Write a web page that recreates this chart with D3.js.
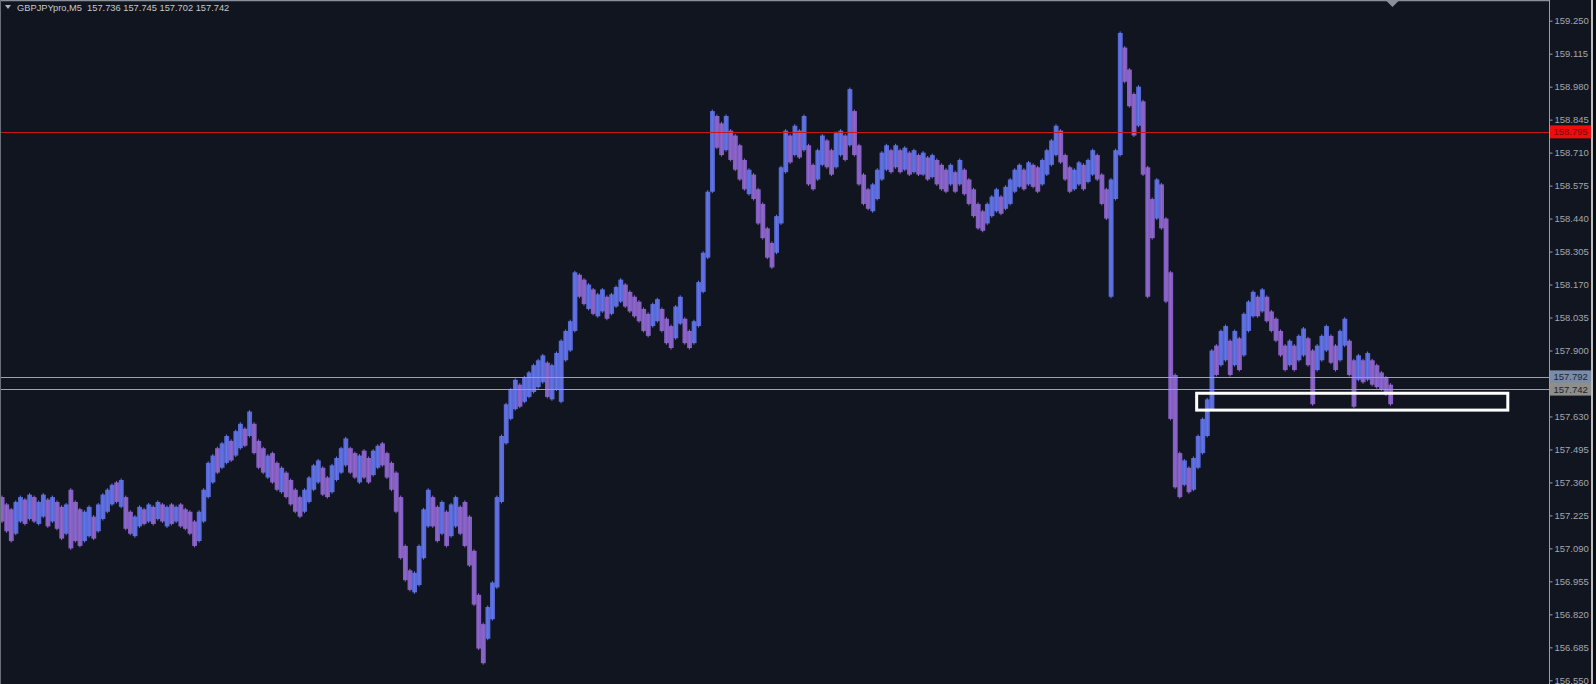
<!DOCTYPE html>
<html>
<head>
<meta charset="utf-8">
<script src="https://cdn.jsdelivr.net/npm/d3@7"></script>
<style>
  html, body { margin: 0; padding: 0; background: #10151f; overflow: hidden; }
  svg { display: block; }
</style>
</head>
<body>
<svg id="chart" width="1596" height="684"></svg>
<script>
// ---- Data ----
const symbol = "GBPJPYpro,M5";
const ohlcHeader = ["157.736", "157.745", "157.702", "157.742"];

const highs = [
157.30,157.27,157.25,157.28,157.30,157.29,157.31,157.30,157.28,157.31,157.29,157.30,157.28,157.26,157.27,157.33,157.28,157.25,157.24,157.26,157.22,157.27,157.31,157.33,157.35,157.36,157.37,157.30,157.24,157.22,157.26,157.25,157.27,157.26,157.28,157.27,157.26,157.27,157.26,157.27,157.25,157.24,157.20,157.24,
157.33,157.44,157.47,157.50,157.52,157.55,157.53,157.57,157.60,157.58,157.65,157.60,157.53,157.50,157.47,157.48,157.44,157.42,157.40,157.37,157.33,157.30,157.33,157.38,157.43,157.45,157.42,157.38,157.43,157.46,157.50,157.54,157.50,157.48,157.47,157.49,157.46,157.49,157.51,157.52,157.48,157.44,157.40,157.30,
157.10,157.00,156.99,157.10,157.25,157.33,157.30,157.26,157.28,157.24,157.27,157.30,157.26,157.28,157.22,157.08,156.90,156.78,156.85,156.95,157.30,157.55,157.68,157.74,157.78,157.76,157.79,157.81,157.84,157.86,157.88,157.85,157.84,157.89,157.94,157.98,158.02,158.22,158.21,158.19,158.17,158.15,158.13,158.15,158.12,
158.13,158.16,158.19,158.17,158.14,158.12,158.10,158.07,158.05,158.09,158.11,158.07,158.03,158.00,158.08,158.12,158.03,157.98,158.02,158.18,158.30,158.55,158.88,158.86,158.83,158.86,158.80,158.78,158.74,158.68,158.64,158.62,158.56,158.50,158.40,158.34,158.45,158.65,158.80,158.78,158.82,158.80,158.86,158.74,
158.66,158.72,158.78,158.76,158.72,158.79,158.80,158.78,158.97,158.88,158.74,158.62,158.56,158.58,158.64,158.71,158.74,158.72,158.74,158.72,158.73,158.71,158.72,158.70,158.71,158.69,158.70,158.68,158.66,158.64,158.66,158.63,158.68,158.64,158.60,158.56,158.50,158.47,158.50,158.53,158.56,158.53,158.57,158.60,
158.64,158.66,158.64,158.67,158.66,158.65,158.68,158.72,158.76,158.82,158.80,158.70,158.65,158.64,158.67,158.66,158.68,158.72,158.70,158.62,158.56,158.60,158.72,159.20,159.14,159.05,158.95,158.98,158.92,158.65,158.52,158.60,158.58,158.44,158.22,157.80,157.48,157.45,157.42,157.46,157.55,157.62,157.70,157.90,157.92,
157.98,158.00,157.94,157.98,157.95,158.05,158.10,158.14,158.12,158.15,158.12,158.06,158.03,157.98,157.92,157.94,157.92,157.96,157.99,157.95,157.90,157.92,157.96,158.00,157.96,157.92,157.98,158.03,157.94,157.86,157.88,157.86,157.89,157.86,157.84,157.81,157.79,157.76
];

const lows = [
157.20,157.16,157.12,157.15,157.20,157.19,157.21,157.20,157.19,157.22,157.18,157.20,157.17,157.13,157.15,157.09,157.12,157.10,157.12,157.14,157.13,157.16,157.21,157.24,157.27,157.28,157.26,157.17,157.15,157.14,157.18,157.19,157.20,157.19,157.21,157.20,157.18,157.19,157.20,157.18,157.17,157.15,157.10,157.12,
157.20,157.30,157.36,157.40,157.42,157.44,157.45,157.47,157.50,157.51,157.55,157.48,157.42,157.40,157.38,157.36,157.33,157.32,157.30,157.27,157.24,157.22,157.24,157.28,157.33,157.36,157.31,157.30,157.32,157.37,157.40,157.43,157.40,157.38,157.36,157.38,157.36,157.39,157.42,157.43,157.38,157.33,157.24,157.05,
156.96,156.92,156.91,156.94,157.05,157.18,157.18,157.12,157.15,157.10,157.14,157.18,157.15,157.10,157.02,156.86,156.68,156.62,156.72,156.80,156.93,157.28,157.52,157.62,157.66,157.67,157.69,157.71,157.73,157.75,157.77,157.71,157.70,157.74,157.69,157.86,157.90,157.98,158.12,158.09,158.07,158.05,158.04,158.06,158.03,
158.05,158.08,158.10,158.08,158.06,158.04,158.02,157.98,157.96,158.00,158.02,157.98,157.93,157.91,157.95,158.01,157.93,157.91,157.93,158.00,158.14,158.28,158.55,158.73,158.70,158.72,158.68,158.64,158.60,158.56,158.54,158.52,158.42,158.36,158.28,158.24,158.30,158.42,158.63,158.67,158.70,158.69,158.72,158.58,
158.56,158.60,158.66,158.65,158.62,158.65,158.70,158.68,158.74,158.70,158.58,158.50,158.48,158.47,158.52,158.60,158.64,158.63,158.65,158.63,158.64,158.62,158.63,158.62,158.62,158.60,158.61,158.58,158.56,158.55,158.58,158.55,158.58,158.54,158.50,158.45,158.40,158.39,158.42,158.45,158.47,158.46,158.48,158.50,
158.55,158.57,158.56,158.58,158.57,158.55,158.58,158.62,158.66,158.70,158.67,158.60,158.55,158.56,158.58,158.56,158.59,158.62,158.60,158.50,158.44,158.12,158.52,158.70,159.00,158.90,158.78,158.82,158.62,158.12,158.36,158.44,158.40,158.10,157.62,157.34,157.30,157.35,157.32,157.33,157.42,157.48,157.55,157.66,157.80,
157.84,157.86,157.80,157.84,157.82,157.88,157.98,158.04,158.04,158.06,158.02,157.98,157.94,157.88,157.82,157.84,157.82,157.86,157.88,157.84,157.68,157.82,157.86,157.90,157.85,157.82,157.86,157.92,157.80,157.67,157.78,157.77,157.78,157.76,157.75,157.74,157.72,157.68
];

// 1 = bull bar (close above open), 0 = bear bar
const bullish = [
0,0,0,1,1,0,1,0,1,1,0,1,0,0,1,0,0,0,1,1,0,1,1,1,1,0,1,0,0,1,1,0,1,0,1,0,1,0,1,0,0,0,0,1,
1,1,1,0,1,1,0,1,1,0,1,0,0,0,1,0,0,1,0,0,0,0,1,1,1,1,0,0,1,1,1,1,0,0,1,0,0,1,1,0,0,0,0,0,
0,0,1,1,1,1,0,0,1,0,1,1,0,0,0,0,0,0,1,1,1,1,1,1,1,0,1,1,1,1,1,0,1,1,1,1,1,1,0,0,1,0,1,1,0,
1,1,1,0,0,0,0,0,0,1,1,0,0,0,1,1,0,0,1,1,1,1,1,0,0,1,0,0,0,0,1,0,0,0,0,0,1,1,1,0,1,0,1,0,
0,1,1,0,0,1,1,0,1,0,0,0,0,1,1,1,1,0,1,0,1,0,1,0,1,0,1,0,0,0,1,0,1,0,0,0,0,0,1,1,1,0,1,1,
1,1,0,1,0,0,1,1,1,1,0,0,0,1,1,0,1,1,0,0,0,1,1,1,0,0,0,1,0,0,0,1,0,0,0,0,0,1,0,1,1,1,1,1,0,
1,1,0,1,0,1,1,1,0,1,0,0,0,0,0,1,0,1,1,0,0,1,1,1,0,0,1,1,0,0,1,0,1,0,0,0,0,0
];

const priceTicks = ["159.250","159.115","158.980","158.845","158.710","158.575","158.440","158.305","158.170","158.035","157.900","157.765","157.630","157.495","157.360","157.225","157.090","156.955","156.820","156.685","156.550"];
// tick hidden behind the price labels
const hiddenTicks = ["157.765"];

const levelRed = 158.795;
const levelAsk = 157.792;
const levelBid = 157.742;
const boxLeftBar = 260.7, boxRightBar = 328.6, boxTopPrice = 157.725, boxBottomPrice = 157.656;

// ---- Drawing ----
const W = 1596, H = 684;
const axisX = 1549;
const FONT = "'Liberation Sans', Arial, sans-serif";
const svg = d3.select("#chart");

svg.append("rect").attr("x",0).attr("y",0).attr("width",W).attr("height",H).attr("fill","#10151f");

const n = highs.length;
const x = d3.scaleLinear().domain([0, n - 1]).range([2, 1390.5]);
const y = d3.scaleLinear().domain([156.55, 159.25]).range([680.3, 20.7]);
const step = x(1) - x(0);

const plot = svg.append("g");

// bars
const bars = d3.range(n).map(i => ({ i, h: highs[i], l: lows[i], up: bullish[i] === 1 }));
plot.selectAll("rect.bar").data(bars).enter().append("rect")
  .attr("class","bar")
  .attr("x", d => x(d.i) - step / 2)
  .attr("width", step + 0.3)
  .attr("y", d => y(d.h))
  .attr("height", d => Math.max(1, y(d.l) - y(d.h)))
  .attr("fill", d => d.up ? "#5a6bd9" : "#8460c2");
// thin brighter wick in the middle of each bar for texture
plot.selectAll("line.wick").data(bars).enter().append("line")
  .attr("class","wick")
  .attr("x1", d => x(d.i)).attr("x2", d => x(d.i))
  .attr("y1", d => y(d.h) - 1.5).attr("y2", d => y(d.l) + 1.5)
  .attr("stroke", d => d.up ? "#6677ea" : "#9468cf")
  .attr("stroke-width", 1);

// horizontal levels
plot.append("line").attr("x1",0).attr("x2",axisX).attr("y1",Math.round(y(levelRed))+0.5).attr("y2",Math.round(y(levelRed))+0.5)
  .attr("stroke","#c81818").attr("stroke-width",1);
plot.append("line").attr("x1",0).attr("x2",axisX).attr("y1",Math.round(y(levelAsk))+0.5).attr("y2",Math.round(y(levelAsk))+0.5)
  .attr("stroke","#9ea3ab").attr("stroke-width",1);
plot.append("line").attr("x1",0).attr("x2",axisX).attr("y1",Math.round(y(levelBid))+0.5).attr("y2",Math.round(y(levelBid))+0.5)
  .attr("stroke","#9ea3ab").attr("stroke-width",1);

// white rectangle annotation
plot.append("rect")
  .attr("x", x(boxLeftBar)).attr("y", y(boxTopPrice))
  .attr("width", x(boxRightBar) - x(boxLeftBar)).attr("height", y(boxBottomPrice) - y(boxTopPrice))
  .attr("fill","none").attr("stroke","#ffffff").attr("stroke-width",3);

// frame: top line & left line
svg.append("line").attr("x1",0).attr("x2",axisX).attr("y1",0.5).attr("y2",0.5).attr("stroke","#8a9099").attr("stroke-width",1.5);
svg.append("line").attr("x1",0.5).attr("x2",0.5).attr("y1",0).attr("y2",H).attr("stroke","#6a7079").attr("stroke-width",1);

// shift marker triangle
const sx = x(n - 1) + 2;
svg.append("path").attr("d", `M${sx-6},1 L${sx+6},1 L${sx},7 Z`).attr("fill","#8a9099");

// right price axis
const axis = d3.axisRight(y)
  .tickValues(priceTicks.filter(t => !hiddenTicks.includes(t)).map(Number))
  .tickFormat(d3.format(".3f"))
  .tickSize(3).tickPadding(2);
const ag = svg.append("g").attr("transform", `translate(${axisX + 0.5},0)`).call(axis);
ag.select(".domain").attr("stroke","#9aa0a8").attr("d", `M0,0V${H}`);
ag.selectAll(".tick line").attr("stroke","#9aa0a8");
ag.selectAll(".tick text").attr("fill","#a3a7ad").attr("font-family",FONT).attr("font-size","9.5px");

// right edge border
svg.append("rect").attr("x",1591).attr("y",0).attr("width",2).attr("height",H).attr("fill","#b8bcc2");
svg.append("rect").attr("x",1593).attr("y",0).attr("width",3).attr("height",H).attr("fill","#0a0d12");

// price labels on axis
function priceLabel(val, bg, fg) {
  const cy = y(val);
  const g = svg.append("g");
  g.append("rect").attr("x", axisX + 1).attr("y", cy - 6.5).attr("width", 41).attr("height", 13).attr("fill", bg);
  g.append("text").attr("x", 1553.5).attr("y", cy + 3.5).attr("fill", fg)
    .attr("font-family",FONT).attr("font-size","9.5px").text(d3.format(".3f")(val));
}
priceLabel(levelRed, "#ee0c0c", "#7a0606");
priceLabel(levelAsk, "#7b8ca6", "#1c2433");
priceLabel(levelBid, "#8e8e8a", "#1e2228");

// header
svg.append("path").attr("d","M5,5 L11,5 L8,9 Z").attr("fill","#b0b4ba");
svg.append("text").attr("x", 17).attr("y", 11).attr("fill","#c4c8cc")
  .attr("font-family",FONT).attr("font-size","9.3px")
  .attr("xml:space","preserve")
  .text(symbol + "  " + ohlcHeader.join(" "));
</script>
</body>
</html>
